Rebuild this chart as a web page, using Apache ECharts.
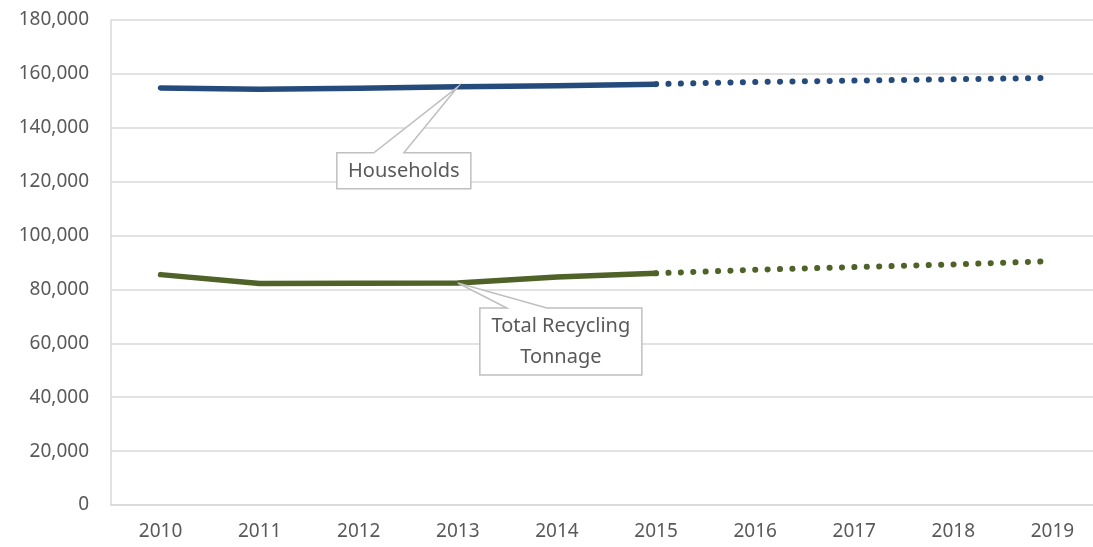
<!DOCTYPE html>
<html>
<head>
<meta charset="utf-8">
<script src="https://cdn.jsdelivr.net/npm/echarts@6/dist/echarts.min.js"></script>
<style>
  html, body { margin: 0; padding: 0; background: #fff; }
  #chart { width: 1093px; height: 547px; }
</style>
</head>
<body>
<div id="chart"></div>
<script>
  const years = ['2010', '2011', '2012', '2013', '2014', '2015', '2016', '2017', '2018', '2019']
  const householdsActual = [154800, 154300, 154700, 155200, 155600, 156200, null, null, null, null]
  const householdsProjected = [null, null, null, null, null, 156200, 157000, 157500, 158000, 158500]
  const recyclingActual = [85500, 82200, 82300, 82400, 84600, 86000, null, null, null, null]
  const recyclingProjected = [null, null, null, null, null, 86000, 87300, 88300, 89300, 90500]

  const blue = '#254A7C'
  const green = '#4F6228'
  const font = 'Noto Sans'

  const chart = echarts.init(document.getElementById('chart'))

  function solid(color) {
    return { color: color, width: 5.5, cap: 'round', join: 'round' }
  }
  function dotted(color) {
    return { color: color, width: 6, type: [0.1, 12.3], cap: 'round' }
  }

  chart.setOption({
    animation: false,
    grid: { left: 111, width: 991, top: 20, bottom: 42, containLabel: false, outerBoundsMode: 'none' },
    xAxis: {
      type: 'category',
      data: years,
      boundaryGap: true,
      axisLine: { lineStyle: { color: '#d9d9d9', width: 1.5 } },
      axisTick: { show: false },
      axisLabel: { color: '#595959', fontSize: 19, fontFamily: font, margin: 17 }
    },
    yAxis: {
      type: 'value',
      min: 0,
      max: 180000,
      interval: 20000,
      axisLine: { show: true, lineStyle: { color: '#d9d9d9', width: 1.5 } },
      axisTick: { show: false },
      splitLine: { lineStyle: { color: '#d9d9d9', width: 1.5 } },
      axisLabel: {
        color: '#595959', fontSize: 19, fontFamily: font, margin: 22,
        formatter: v => v.toLocaleString('en-US')
      }
    },
    series: [
      { name: 'Households', type: 'line', data: householdsActual, symbol: 'none', lineStyle: solid(blue), z: 3 },
      { name: 'Households projected', type: 'line', data: householdsProjected, symbol: 'none', lineStyle: dotted(blue), z: 2 },
      { name: 'Total Recycling Tonnage', type: 'line', data: recyclingActual, symbol: 'none', lineStyle: solid(green), z: 3 },
      { name: 'Recycling projected', type: 'line', data: recyclingProjected, symbol: 'none', lineStyle: dotted(green), z: 2 }
    ]
  })

  // callout box with a wedge pointing at a data point
  function callout(anchor, box, wedge, text, lineHeight) {
    const [ax, ay] = anchor
    const l = ax + box[0], t = ay + box[1], r = ax + box[2], b = ay + box[3]
    const w0 = ax + wedge[0], w1 = ax + wedge[1]
    return [
      {
        type: 'polygon',
        z: 10,
        shape: { points: [[l, t], [w0, t], [ax, ay], [w1, t], [r, t], [r, b], [l, b]] },
        style: { fill: '#fff', stroke: '#bfbfbf', lineWidth: 1.5 }
      },
      {
        type: 'text',
        z: 11,
        x: (l + r) / 2,
        y: (t + b) / 2,
        style: {
          text: text, fill: '#595959', font: '20px "' + font + '"',
          align: 'center', verticalAlign: 'middle', lineHeight: lineHeight
        }
      }
    ]
  }

  const hPt = chart.convertToPixel({ gridIndex: 0 }, ['2013', householdsActual[3]])
  const rPt = chart.convertToPixel({ gridIndex: 0 }, ['2013', recyclingActual[3]])

  chart.setOption({
    graphic: [].concat(
      callout(hPt, [-121, 66, 13, 102], [-84, -54], 'Households', 22),
      callout(rPt, [22, 25, 184, 92], [49, 89], 'Total Recycling\nTonnage', 31)
    )
  })
</script>
</body>
</html>
